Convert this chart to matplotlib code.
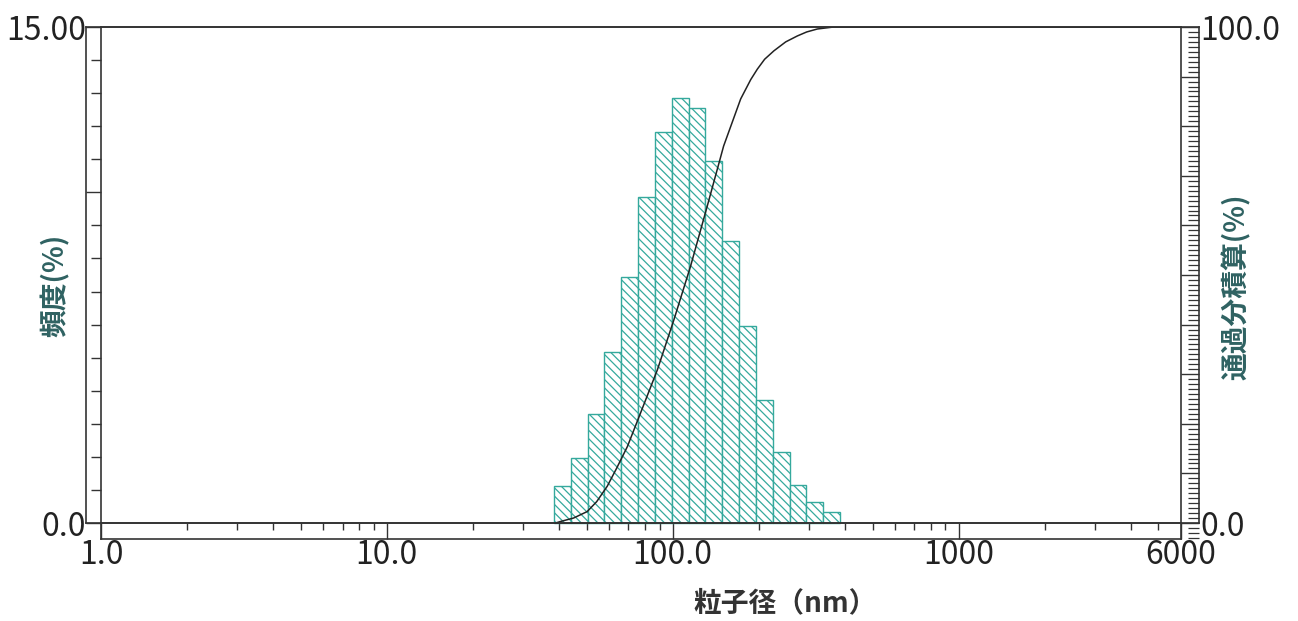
import numpy as np
import matplotlib
matplotlib.use("Agg")
import matplotlib.pyplot as plt
from matplotlib.lines import Line2D
from matplotlib.ticker import FixedLocator, FixedFormatter, MultipleLocator, LogLocator, NullFormatter

plt.rcParams['font.family'] = ['Noto Sans CJK JP', 'DejaVu Sans']
plt.rcParams['hatch.linewidth'] = 0.9
plt.rcParams['hatch.color'] = '#3aab9f'

# ビンの境界 (nm) と頻度 (%)
bin_edges_nm = [38.5, 44.0, 50.4, 57.7, 66.1, 75.7, 86.7, 99.3, 113.7, 130.2,
                149.1, 170.8, 195.6, 224.0, 256.5, 293.7, 336.3, 385.2]
freq_pct = [1.11, 1.97, 3.30, 5.17, 7.44, 9.85, 11.83, 12.86, 12.56, 10.94,
            8.54, 5.97, 3.73, 2.15, 1.16, 0.62, 0.33]

# 通過分積算カーブ (読み取り値)
cum_size_nm = [38.9, 40.5, 45.0, 50.2, 54.2, 59.0, 63.6, 69.4, 77.2, 88.4,
               101.0, 115.5, 132.1, 150.7, 172.9, 187.5, 197.7, 209.7, 226.0,
               248.5, 273.0, 294.2, 320.7, 365.6, 6000]
cum_pct = [0.0, 0.3, 1.0, 2.3, 4.3, 7.4, 11.0, 15.4, 22.2, 30.9,
           41.0, 51.8, 63.9, 76.0, 85.5, 89.4, 91.5, 93.5, 95.2,
           97.0, 98.2, 99.0, 99.6, 100.0, 100.0]

x_ticks = [1, 10, 100, 1000, 6000]
x_labels = ['1.0', '10.0', '100.0', '1000', '6000']

# レイアウト (ピクセル)
W, H = 1298, 621
L_IN, R_IN = 101, 1181
L_OUT, R_OUT = 86, 1199
TOP, Y0, BOT = 27, 523, 539
PX = 0.72  # px -> pt at dpi 100

FRAME = '#333333'
TEAL = '#35a99d'
LABEL = '#2f6262'

fig = plt.figure(figsize=(W / 100, H / 100), dpi=100)
ax = fig.add_axes([L_IN / W, (H - BOT) / H, (R_IN - L_IN) / W, (BOT - TOP) / H])

unit = (Y0 - TOP) / 15.0
ybot = -(BOT - Y0) / unit

edges = np.array(bin_edges_nm)
ax.bar(edges[:-1], freq_pct, width=np.diff(edges), align='edge',
       facecolor='white', edgecolor=TEAL, hatch='\\\\\\\\', linewidth=1.0, zorder=2)

ax.set_xscale('log')
ax.set_xlim(1, 6000)
ax.set_ylim(ybot, 15)

for s in ax.spines.values():
    s.set_color(FRAME)
    s.set_linewidth(1.2)
ax.spines['bottom'].set_position(('data', 0))

ax.xaxis.set_major_locator(FixedLocator(x_ticks))
ax.xaxis.set_major_formatter(FixedFormatter(x_labels))
ax.xaxis.set_minor_locator(LogLocator(base=10, subs=np.arange(2, 10), numticks=20))
ax.xaxis.set_minor_formatter(NullFormatter())
ax.tick_params(axis='x', which='major', direction='out', length=(BOT - Y0) * PX,
               width=1.0, color=FRAME, pad=0, labelsize=23, labelcolor='#222222')
ax.tick_params(axis='x', which='minor', direction='out', length=7 * PX, width=1.0, color=FRAME)

ax.yaxis.set_major_locator(FixedLocator([0, 10, 15]))
ax.yaxis.set_major_formatter(FixedFormatter(['0.0', '', '15.00']))
ax.yaxis.set_minor_locator(MultipleLocator(1))
ax.tick_params(axis='y', which='major', direction='out', length=(L_IN - L_OUT) * PX,
               width=1.0, color=FRAME, pad=0, labelsize=23, labelcolor='#222222')
ax.tick_params(axis='y', which='minor', direction='out', length=10 * PX, width=1.0, color=FRAME)

# 右軸
ax2 = ax.twinx()
ax2.set_ylim(ybot * 100 / 15, 100)
for k in ['left', 'top', 'bottom']:
    ax2.spines[k].set_visible(False)
ax2.spines['right'].set_position(('outward', (R_OUT - R_IN) * PX))
ax2.spines['right'].set_bounds(0, 100)
ax2.spines['right'].set_color(FRAME)
ax2.spines['right'].set_linewidth(1.2)
ax2.yaxis.set_major_locator(FixedLocator([0, 10, 20, 30, 40, 50, 60, 70, 80, 90, 100]))
ax2.yaxis.set_major_formatter(FixedFormatter(['0.0'] + [''] * 9 + ['100.0']))
ax2.yaxis.set_minor_locator(MultipleLocator(1))
ax2.tick_params(axis='y', which='major', direction='in', length=(R_OUT - R_IN) * PX,
                width=1.0, color=FRAME, pad=1, labelsize=23, labelcolor='#222222')
ax2.tick_params(axis='y', which='minor', direction='in', length=11 * PX, width=0.9, color=FRAME)

ax2.plot(cum_size_nm, cum_pct, color='#222222', linewidth=1.1, zorder=3)


def fline(xs, ys):
    fig.add_artist(Line2D([x / W for x in xs], [1 - y / H for y in ys],
                          transform=fig.transFigure, color=FRAME, linewidth=1.2))


fline([L_OUT, R_OUT], [TOP, TOP])
fline([L_OUT, R_OUT], [Y0, Y0])
fline([L_OUT, L_OUT], [TOP, Y0])
fline([L_IN, R_IN], [BOT, BOT])

fig.text(55 / W, 1 - 285 / H, '頻度(%)', rotation=90, ha='center', va='center',
         fontsize=20, fontweight='bold', color=LABEL)
fig.text(1236 / W, 1 - 287 / H, '通過分積算(%)', rotation=90, ha='center', va='center',
         fontsize=20, fontweight='bold', color=LABEL)
fig.text(785 / W, 1 - 603 / H, '粒子径（nm）', ha='center', va='center',
         fontsize=20, fontweight='bold', color='#333333')

fig.savefig('out.png', dpi=100)
